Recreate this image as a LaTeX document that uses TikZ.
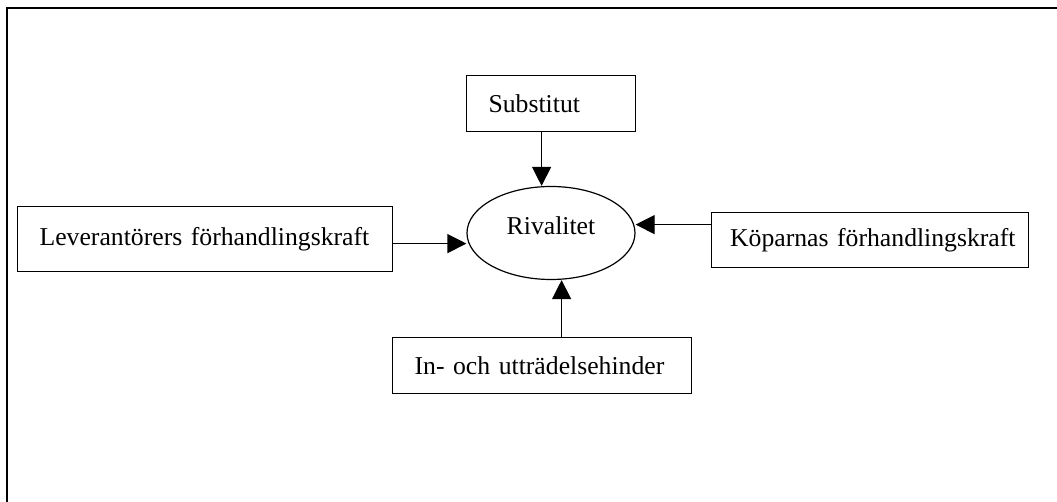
\documentclass[tikz,border=0pt]{standalone}
\usepackage{fontspec}
\setmainfont{Liberation Serif}
\usetikzlibrary{arrows.meta,shapes.geometric}

\begin{document}
\begin{tikzpicture}[x=0.5pt,y=-0.5pt,>={Triangle[length=9.5pt,width=9.5pt]},font=\fontsize{12.85}{15}\selectfont,
  box/.style={draw,line width=0.6pt,anchor=north west,align=left,inner xsep=11pt,inner ysep=0pt,minimum height=28pt},
  force/.style={->,line width=0.6pt}]
  \useasboundingbox (0,0) rectangle (1057,502);
  \draw[line width=1pt] (7,502) -- (7,8) -- (1057,8);
  \node[box,text width=62.5pt] (subst) at (466,75) {Substitut};
  \node[box,text width=165.5pt,minimum height=32.5pt] (lev) at (17,206) {Leverantörers förhandlingskraft};
  \node[box,align=right,inner xsep=6.5pt,text width=145.5pt,minimum height=27.5pt] (kop) at (711,212) {Köparnas förhandlingskraft};
  \node[box,text width=127.5pt] (hinder) at (392,337) {In- och utträdelsehinder};
  \node[ellipse,draw,line width=0.6pt,minimum width=84pt,minimum height=46.5pt,inner sep=0pt,text depth=7pt] (riv) at (551,233) {Rivalitet};
  \draw[force] ([xshift=-4.75pt]subst.south) -- ([xshift=-4.75pt]subst.south |- riv.north);
  \draw[force] ([yshift=-2.25pt]lev.east) -- ([yshift=-2.25pt]lev.east -| riv.west);
  \draw[force] ([yshift=7.75pt]kop.west) -- ([yshift=7.75pt]kop.west -| riv.east);
  \draw[force] ([xshift=9.75pt]hinder.north) -- ([xshift=9.75pt]hinder.north |- riv.south);
\end{tikzpicture}
\end{document}
